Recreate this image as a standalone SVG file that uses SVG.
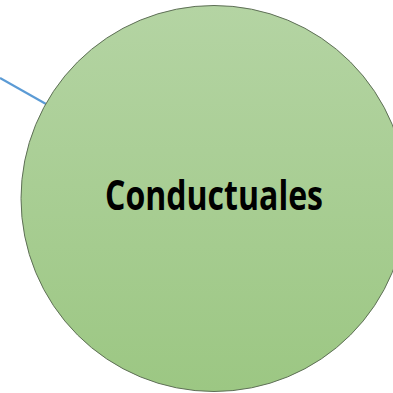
<svg xmlns="http://www.w3.org/2000/svg" width="393" height="393" viewBox="0 0 393 393">
  <style>
    .conn { stroke: #5B9BD5; stroke-width: 2.2; fill: none; }
    .node { stroke: #5E6F56; stroke-width: 1; }
    .label { font-family: "Open Sans", "Liberation Sans", sans-serif; font-weight: bold; font-size: 42px; fill: #000; }
  </style>
  <defs>
    <linearGradient id="g" x1="0" y1="0" x2="0" y2="1">
      <stop offset="0" stop-color="#B4D4A3"/>
      <stop offset="1" stop-color="#9CC783"/>
    </linearGradient>
  </defs>
  <rect width="393" height="393" fill="#FFFFFF"/>
  <g id="connectors">
    <line class="conn" x1="0" y1="78" x2="46" y2="104"/>
  </g>
  <g id="node-conductuales">
    <circle class="node" cx="214" cy="198.5" r="193" fill="url(#g)"/>
    <text class="label" x="214" y="210" text-anchor="middle" textLength="218" lengthAdjust="spacingAndGlyphs">Conductuales</text>
  </g>
</svg>
